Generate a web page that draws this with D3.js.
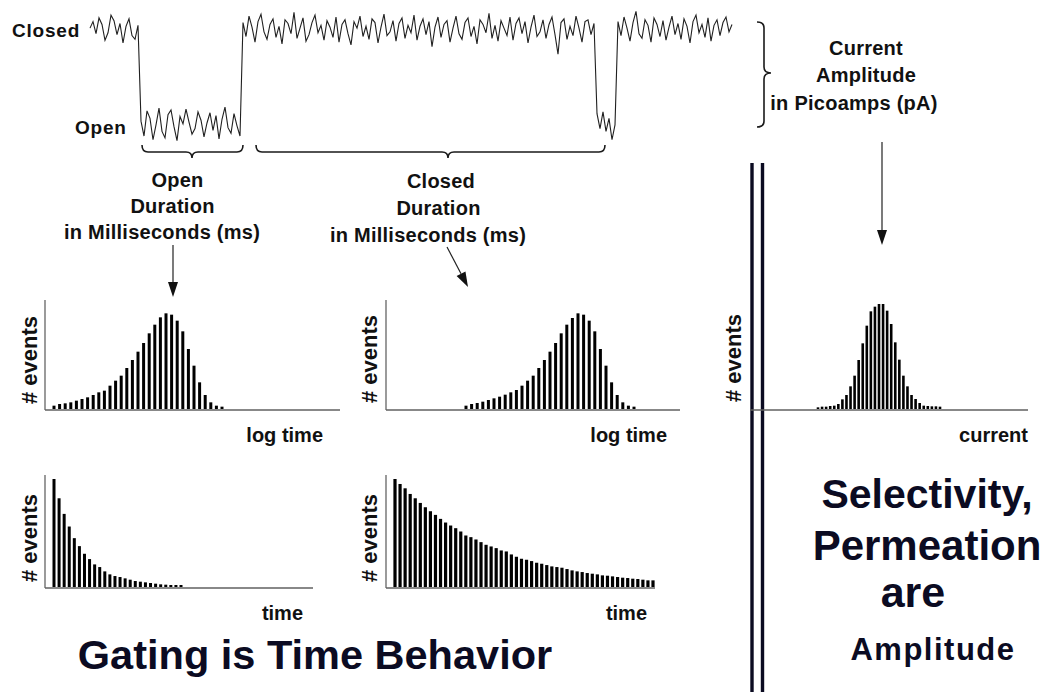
<!DOCTYPE html>
<html>
<head>
<meta charset="utf-8">
<script src="https://cdn.jsdelivr.net/npm/d3@7"></script>
<style>
  html, body { margin: 0; padding: 0; background: #ffffff; }
  svg { display: block; }
  text { font-family: "Liberation Sans", Arial, Helvetica, sans-serif; font-weight: bold; }
</style>
</head>
<body>
<svg id="chart" width="1044" height="692"></svg>
<script>
// ---------------- DATA ----------------
// Single-channel current trace (arbitrary units: 0 = closed level, -10 = open level)
const traceClosed1 = [0.2,0.9,-0.4,1.3,0.6,-1.1,-0.3,1.6,1.0,-0.5,0.7,-1.4,0.4,1.2,-0.6,-1.0,0.5];
const traceOpen1 = [-9.8,-11.4,-8.7,-9.5,-11.8,-10.2,-8.4,-10.9,-11.6,-9.1,-8.6,-10.4,-11.9,-9.3,-10.1,-8.5,-9.9,-11.2,-10.6,-8.8,-9.7,-11.5,-10.0,-8.9,-10.8,-9.2,-11.7,-9.6,-8.3,-10.5,-11.1,-9.0,-10.3,-11.4];
const traceClosed2 = [0.8,-0.7,1.5,0.3,-1.3,0.9,1.7,-0.2,-1.0,0.6,1.2,-0.8,0.4,-1.5,1.1,0.7,-0.4,1.9,-0.9,0.2,1.3,-1.2,-0.5,0.8,1.6,-0.3,0.5,-1.1,1.0,0.3,
  -0.8,1.4,-1.3,0.6,1.1,-0.4,-1.6,0.9,0.2,1.5,-0.7,0.4,-1.0,1.2,0.8,-1.4,0.3,1.7,-0.6,-0.2,1.0,-1.2,0.7,1.3,-0.9,0.5,-0.3,1.6,-1.1,0.4,
  1.2,-0.5,0.9,-1.8,0.3,1.4,-0.8,0.6,1.0,-1.3,0.2,1.5,-0.4,-1.0,0.8,1.3,-0.7,0.4,-1.5,1.1,0.6,-0.3,1.8,-0.9,0.5,-1.2,1.0,0.2,-0.6,1.4,
  -1.1,0.7,1.3,-0.4,0.9,-1.4,0.3,1.6,-0.7,-0.2,1.1,-0.9,0.6,1.4,-0.5,-2.6,0.8,1.2,-1.0,0.4,-0.6,1.5,0.2,-1.3,0.9,1.1,-0.5,0.7];
const traceOpen2 = [-9.0,-10.6,-8.8,-10.9,-9.5,-11.8,-10.2];
const traceClosed3 = [0.9,-0.6,1.4,0.2,-1.2,0.8,2.0,-0.4,-0.9,1.1,0.5,-1.3,1.3,0.6,-0.7,1.0,-1.1,0.3,1.5,-0.5,
  0.7,-1.0,1.2,0.4,-1.4,0.9,1.6,-0.3,0.6,-0.8,1.3,-1.2,0.5,1.1,-0.6,0.8,1.4,-0.2,0.6];

// Histograms (# events per bin)
const openLogTimeCounts = [10,15,17,20,25,30,35,42,50,55,70,85,100,123,147,172,198,227,253,275,287,283,265,233,180,130,80,42,20,10,7];
const closedLogTimeCounts = [10,15,18,22,27,32,37,43,50,57,70,85,100,123,147,172,198,227,253,273,287,283,265,233,180,130,80,42,20,10,7];
const currentAmplitudeCounts = [5,7,7,9,10,15,29,42,68,100,147,197,250,293,307,315,315,295,255,200,148,100,68,42,30,18,10,9,8,8,7];
const openTimeCounts = [325,267,220,182,147,123,100,84,68,60,47,38,33,30,26,22,18,16,14,12,10,8,7,6,6,6];
const closedTimeCounts = [325,310,297,280,267,253,240,228,217,205,194,185,177,167,155,150,143,135,127,122,117,110,107,98,91,85,82,78,73,70,66,62,60,58,54,50,47,45,42,40,38,35,34,32,30,28,27,25,24,22,20,20];

// Text labels
const stateLabels = ["Closed", "Open"];
const openDurationLines = ["Open", "Duration", "in Milliseconds (ms)"];
const closedDurationLines = ["Closed", "Duration", "in Milliseconds (ms)"];
const amplitudeLines = ["Current", "Amplitude", "in Picoamps (pA)"];
const yAxisLabel = "# events";
const xAxisLabels = ["log time", "log time", "current", "time", "time"];
const gatingTitle = "Gating is Time Behavior";
const amplitudeTitle = ["Selectivity,", "Permeation", "are", "Amplitude"];

// ---------------- DRAW ----------------
const svg = d3.select("#chart");
svg.append("rect").attr("width", 1044).attr("height", 692).attr("fill", "#ffffff");

const ink = "#0b0b22";

// ---- trace ----
const trace = [].concat(traceClosed1, traceOpen1, traceClosed2, traceOpen2, traceClosed3);
const tx = d3.scaleLinear().domain([0, trace.length - 1]).range([90, 732]);
const ty = d3.scaleLinear().domain([-10, 0]).range([123, 30]);
svg.append("path")
  .datum(trace)
  .attr("fill", "none")
  .attr("stroke", "#202020")
  .attr("stroke-width", 1.1)
  .attr("stroke-linejoin", "miter")
  .attr("d", d3.line().x((d, i) => tx(i)).y(d => ty(d)));

svg.append("text").attr("x", 12).attr("y", 37).attr("font-size", 19).attr("letter-spacing", 0.8)
  .attr("fill", "#111").text(stateLabels[0]);
svg.append("text").attr("x", 75).attr("y", 134).attr("font-size", 19).attr("letter-spacing", 0.8)
  .attr("fill", "#111").text(stateLabels[1]);

// ---- braces ----
function hBrace(x1, x2, xm, y0, y1, y2) {
  const r = 6;
  return `M${x1},${y0} Q${x1},${y1} ${x1 + r},${y1} L${xm - r},${y1} Q${xm},${y1} ${xm},${y2} ` +
         `Q${xm},${y1} ${xm + r},${y1} L${x2 - r},${y1} Q${x2},${y1} ${x2},${y0}`;
}
function vBrace(y1, y2, ym, x0, x1, x2) {
  const r = 6;
  return `M${x0},${y1} Q${x1},${y1} ${x1},${y1 + r} L${x1},${ym - r} Q${x1},${ym} ${x2},${ym} ` +
         `Q${x1},${ym} ${x1},${ym + r} L${x1},${y2 - r} Q${x1},${y2} ${x0},${y2}`;
}
const braceG = svg.append("g").attr("fill", "none").attr("stroke", "#1a1a1a").attr("stroke-width", 1.6);
braceG.append("path").attr("d", hBrace(tx(17) + 1, tx(51), 192, 145, 152, 158));
braceG.append("path").attr("d", hBrace(256, 605, 448, 145, 152, 158));
braceG.append("path").attr("d", vBrace(22, 127, 73, 757, 764, 771));

// ---- text blocks ----
function textBlock(lines, xs, ys, size) {
  lines.forEach((t, i) => {
    svg.append("text").attr("x", xs[i]).attr("y", ys[i]).attr("text-anchor", "middle")
      .attr("font-size", size).attr("letter-spacing", 0.25).attr("fill", "#111").text(t);
  });
}
textBlock(openDurationLines, [177.5, 172.5, 162], [187, 213, 239], 20);
textBlock(closedDurationLines, [441, 438.5, 428], [188, 215, 242], 20);
textBlock(amplitudeLines, [866, 866, 854], [55, 82, 110], 20);

// ---- arrows ----
function arrow(x1, y1, x2, y2) {
  const ang = Math.atan2(y2 - y1, x2 - x1);
  const L = 15, W = 5;
  const bx = x2 - L * Math.cos(ang), by = y2 - L * Math.sin(ang);
  svg.append("line").attr("x1", x1).attr("y1", y1).attr("x2", bx).attr("y2", by)
    .attr("stroke", "#222").attr("stroke-width", 1.2);
  const px = -Math.sin(ang) * W, py = Math.cos(ang) * W;
  svg.append("path")
    .attr("d", `M${x2},${y2} L${bx + px},${by + py} L${bx - px},${by - py} Z`)
    .attr("fill", "#111");
}
arrow(173, 245, 173, 297);
arrow(447, 247, 468, 287);
arrow(882, 142, 882, 245);

// ---- double divider ----
[752, 762.5].forEach(x => {
  svg.append("line").attr("x1", x).attr("x2", x).attr("y1", 163).attr("y2", 692)
    .attr("stroke", ink).attr("stroke-width", 3.4);
});

// ---- histograms ----
function histogram(cfg) {
  const g = svg.append("g");
  const x = d3.scaleLinear().domain([0, cfg.data.length - 1]).range([cfg.barStart, cfg.barEnd]);
  const y = d3.scaleLinear().domain([0, cfg.max]).range([cfg.base, cfg.top]);
  if (cfg.yAxis !== false) {
    g.append("line").attr("x1", cfg.axisX).attr("x2", cfg.axisX).attr("y1", cfg.axisTop).attr("y2", cfg.base + 1)
      .attr("stroke", "#707070").attr("stroke-width", 1.4);
  }
  g.append("line").attr("x1", cfg.axisX).attr("x2", cfg.axisRight).attr("y1", cfg.base + 1).attr("y2", cfg.base + 1)
    .attr("stroke", "#606060").attr("stroke-width", 1.6);
  g.selectAll("rect.bar").data(cfg.data).join("rect")
    .attr("class", "bar")
    .attr("x", (d, i) => x(i) - cfg.barW / 2)
    .attr("width", cfg.barW)
    .attr("y", d => y(d))
    .attr("height", d => cfg.base - y(d))
    .attr("fill", "#000");
  svg.append("text").attr("transform", `translate(${cfg.yLabelX},${cfg.yLabelY}) rotate(-90)`)
    .attr("text-anchor", "middle").attr("font-size", 22).attr("fill", "#111").text(yAxisLabel);
  svg.append("text").attr("x", cfg.xLabelRight).attr("y", cfg.xLabelY).attr("text-anchor", "end")
    .attr("font-size", 20).attr("fill", "#111").text(cfg.xLabel);
}

histogram({ data: openLogTimeCounts, barStart: 54, barEnd: 222, barW: 3, max: 300, base: 409, top: 309,
  axisX: 45, axisTop: 300, axisRight: 340, yLabelX: 37, yLabelY: 360, xLabel: xAxisLabels[0], xLabelRight: 323, xLabelY: 442 });
histogram({ data: closedLogTimeCounts, barStart: 466, barEnd: 634, barW: 3, max: 300, base: 409, top: 309,
  axisX: 386, axisTop: 300, axisRight: 680, yLabelX: 377, yLabelY: 359, xLabel: xAxisLabels[1], xLabelRight: 667, xLabelY: 442 });
histogram({ data: currentAmplitudeCounts, barStart: 818, barEnd: 940, barW: 2.6, max: 315, base: 409, top: 304,
  axisX: 750, axisTop: 300, axisRight: 1028, yAxis: false, yLabelX: 741, yLabelY: 358, xLabel: xAxisLabels[2], xLabelRight: 1028, xLabelY: 442 });
histogram({ data: openTimeCounts, barStart: 54, barEnd: 181, barW: 3, max: 325, base: 587, top: 479,
  axisX: 45, axisTop: 475, axisRight: 313, yLabelX: 37, yLabelY: 538, xLabel: xAxisLabels[3], xLabelRight: 303, xLabelY: 620 });
histogram({ data: closedTimeCounts, barStart: 395, barEnd: 653, barW: 3.2, max: 325, base: 587, top: 479,
  axisX: 386, axisTop: 475, axisRight: 655, yLabelX: 377, yLabelY: 538, xLabel: xAxisLabels[4], xLabelRight: 647, xLabelY: 620 });

// ---- big titles ----
svg.append("text").attr("x", 315).attr("y", 669).attr("text-anchor", "middle")
  .attr("font-size", 41.5).attr("fill", ink).text(gatingTitle);
const rt = [
  { x: 927, y: 508, s: 41 },
  { x: 927, y: 560, s: 42 },
  { x: 913, y: 607, s: 43 },
  { x: 933, y: 660, s: 31, ls: 1.5 }
];
amplitudeTitle.forEach((t, i) => {
  svg.append("text").attr("x", rt[i].x).attr("y", rt[i].y).attr("text-anchor", "middle")
    .attr("font-size", rt[i].s).attr("letter-spacing", rt[i].ls || 0).attr("fill", ink).text(t);
});
</script>
</body>
</html>
